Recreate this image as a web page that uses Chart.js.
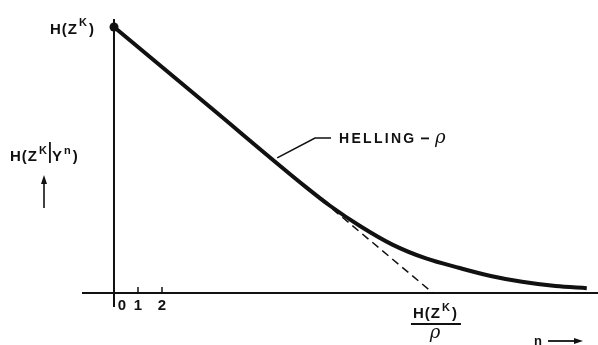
<!DOCTYPE html>
<html lang="en">
<head>
    <meta charset="UTF-8">
    <title>Helling curve</title>
    <style>
        * {
            margin: 0;
            padding: 0;
            box-sizing: border-box;
        }
        body {
            background: #fff;
        }
        .wrapper {
            position: relative;
            width: 598px;
            height: 345px;
        }
    </style>
</head>
<body>
    <div class="wrapper">
        <canvas id="chart"></canvas>
    </div>
    <script src="https://cdn.jsdelivr.net/npm/chart.js@4/dist/chart.umd.min.js"></script>
    <script>
        // entropy H(Z^K) taken as 10 units, zero-error slope rho gives the intercept
        const hZK = 10;
        const intercept = 13.29;

        // H(Z^K | Y^n) against n
        const hellingX = [0, 4, 8, 9, 10.25, 11.6, 13, 14.4, 15.7, 17, 18.4, 19.7];
        const hellingY = [10, 6.99, 3.98, 3.28, 2.52, 1.82, 1.3, 0.94, 0.64, 0.42, 0.26, 0.18];

        // straight continuation of the initial slope
        const tangentX = [9.1, intercept];
        const tangentY = [3.16, 0];

        const tickValues = [1, 2];
        const tickLabels = ["0", "1", "2"];
        const tickLabelX = [0.33, 1, 2];

        const toPoints = (xs, ys) => xs.map((x, i) => ({ x: x, y: ys[i] }));

        const FONT = "'Liberation Sans', Arial, sans-serif";

        // superscript-aware text: parts are [text, isSuper]
        const drawParts = (ctx, parts, x, y, size, align) => {
            const fontFor = (sup) => "bold " + (sup ? Math.round(size * 0.75) : size) + "px " + FONT;
            ctx.letterSpacing = "1px";
            let total = 0;
            parts.forEach(([t, sup]) => {
                ctx.font = fontFor(sup);
                total += ctx.measureText(t).width + 1;
            });
            let cx = align === "center" ? x - total / 2 : x;
            ctx.textAlign = "left";
            ctx.textBaseline = "alphabetic";
            parts.forEach(([t, sup]) => {
                ctx.font = fontFor(sup);
                ctx.fillText(t, cx, sup ? y - size * 0.5 : y);
                cx += ctx.measureText(t).width + 1;
            });
            ctx.letterSpacing = "0px";
            return total;
        };

        const arrowHead = (ctx, x, y, dir) => {
            ctx.beginPath();
            if (dir === "up") {
                ctx.moveTo(x, y);
                ctx.lineTo(x - 3, y + 9);
                ctx.lineTo(x + 3, y + 9);
            } else {
                ctx.moveTo(x, y);
                ctx.lineTo(x - 9, y - 3);
                ctx.lineTo(x - 9, y + 3);
            }
            ctx.closePath();
            ctx.fill();
        };

        const axesAndLabels = {
            id: "axesAndLabels",
            afterDatasetsDraw(chart) {
                const { ctx, scales } = chart;
                const xs = scales.x, ys = scales.y;
                const px = (v) => xs.getPixelForValue(v);
                const py = (v) => ys.getPixelForValue(v);
                const x0 = px(0), y0 = py(0);

                ctx.save();
                ctx.strokeStyle = "#111";
                ctx.fillStyle = "#111";

                // axes
                ctx.lineWidth = 2;
                ctx.beginPath();
                ctx.moveTo(xs.left, y0);
                ctx.lineTo(xs.right, y0);
                ctx.moveTo(x0, py(10.3));
                ctx.lineTo(x0, y0 + 14);
                ctx.stroke();

                // ticks at n = 1, 2
                ctx.lineWidth = 1.5;
                tickValues.forEach((v) => {
                    ctx.beginPath();
                    ctx.moveTo(px(v), y0);
                    ctx.lineTo(px(v), y0 - 6);
                    ctx.stroke();
                });
                ctx.font = "bold 15px " + FONT;
                ctx.textAlign = "center";
                ctx.textBaseline = "alphabetic";
                tickLabels.forEach((t, i) => ctx.fillText(t, px(tickLabelX[i]), y0 + 17));

                // H(Z^K) at the start of the curve
                drawParts(ctx, [["H(Z", 0], ["K", 1], [")", 0]], 50, py(hZK) + 7, 15, "left");

                // vertical axis title
                const ty = 161;
                let w = drawParts(ctx, [["H(Z", 0], ["K", 1]], 10, ty, 15, "left");
                ctx.lineWidth = 1.8;
                ctx.beginPath();
                ctx.moveTo(10 + w + 1, ty - 19);
                ctx.lineTo(10 + w + 1, ty + 2);
                ctx.stroke();
                drawParts(ctx, [["Y", 0], ["n", 1], [")", 0]], 10 + w + 3, ty, 15, "left");
                ctx.lineWidth = 1.6;
                ctx.beginPath();
                ctx.moveTo(44, 208);
                ctx.lineTo(44, 180);
                ctx.stroke();
                arrowHead(ctx, 44, 175, "up");

                // leader and curve name
                ctx.lineWidth = 1.6;
                ctx.beginPath();
                ctx.moveTo(px(6.8), py(5.08));
                ctx.lineTo(315, 138);
                ctx.lineTo(331, 138);
                ctx.stroke();
                ctx.font = "bold 14px " + FONT;
                ctx.letterSpacing = "2.3px";
                ctx.textAlign = "left";
                ctx.fillText("HELLING", 339, 143);
                ctx.letterSpacing = "0px";
                ctx.fillRect(421, 137.5, 8, 1.8);
                ctx.font = "italic 18px 'DejaVu Serif', serif";
                ctx.fillText("\u03c1", 435, 143);

                // intercept label H(Z^K)/rho
                const ix = px(intercept) + 3;
                drawParts(ctx, [["H(Z", 0], ["K", 1], [")", 0]], ix, 318, 15, "center");
                ctx.lineWidth = 1.8;
                ctx.beginPath();
                ctx.moveTo(ix - 25, 324);
                ctx.lineTo(ix + 25, 324);
                ctx.stroke();
                ctx.font = "italic 18px 'DejaVu Serif', serif";
                ctx.textAlign = "center";
                ctx.fillText("\u03c1", ix - 1, 338);

                // n arrow
                ctx.font = "bold 13px " + FONT;
                ctx.textAlign = "left";
                ctx.fillText("n", 534, 345);
                ctx.lineWidth = 1.8;
                ctx.beginPath();
                ctx.moveTo(548, 341);
                ctx.lineTo(575, 341);
                ctx.stroke();
                arrowHead(ctx, 583, 341, "right");

                ctx.restore();
            }
        };

        new Chart(document.getElementById("chart"), {
            type: "line",
            data: {
                datasets: [
                    {
                        data: toPoints(hellingX, hellingY),
                        borderColor: "#111",
                        backgroundColor: "#111",
                        borderWidth: 4,
                        cubicInterpolationMode: "monotone",
                        pointRadius: (c) => (c.dataIndex === 0 ? 4.5 : 0),
                        pointBorderWidth: 0,
                        fill: false,
                        clip: false,
                    },
                    {
                        data: toPoints(tangentX, tangentY),
                        borderColor: "#111",
                        borderWidth: 1.5,
                        borderDash: [8, 5],
                        pointRadius: 0,
                        fill: false,
                    },
                ],
            },
            options: {
                responsive: true,
                maintainAspectRatio: false,
                animation: false,
                layout: { padding: { left: 82, right: 0, top: 0, bottom: 0 }, autoPadding: false },
                plugins: {
                    legend: { display: false },
                    tooltip: { enabled: false },
                },
                scales: {
                    x: { type: "linear", min: -1.333, max: 20.167, display: false },
                    y: { type: "linear", min: -1.955, max: 11.015, display: false },
                },
            },
            plugins: [axesAndLabels],
        });
    </script>
</body>
</html>
